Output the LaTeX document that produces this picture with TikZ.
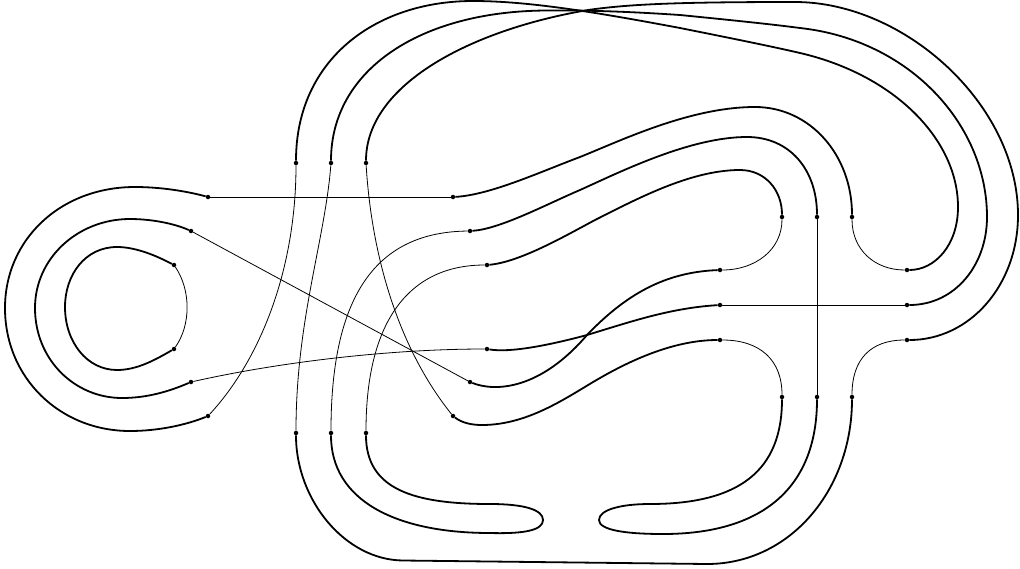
\documentclass[tikz,border=0pt]{standalone}
\usepackage{xcolor}
\tikzset{
  dot/.style={circle, fill=black, inner sep=0pt, minimum size=4.5pt},
  arc/.style={line width=1.8pt, line join=round},
  wire/.style={line width=0.8pt},
}
\begin{document}
\begin{tikzpicture}[x=1pt,y=-1pt]
  \useasboundingbox (0,0) rectangle (1020,568);
  % end points of the strands
  \foreach \nm/\xx/\yy in {a1/296/163,a2/331/163,a3/366/163,b1/296/433,b2/331/433,b3/366/433,
    la/208/197,lb/191/231,lc/174/265,ld/174/349,le/191/382,lf/208/416,
    ma/453/197,mb/470/231,mc/487/265,md/487/349,me/470/382,mf/453/416,
    ra/720/270,rb/720/305,rc/720/340,
    ca/782/217,cb/817/217,cc/852/217,da/782/397,db/817/397,dc/852/397,
    fa/907/270,fb/907/305,fc/907/340}
    \node[dot] (\nm) at (\xx,\yy) {};
  % left loops
  \draw[arc] (la) .. controls (186,191) and (160,187) .. (135,187) .. controls (60,187) and (5,240) .. (5,308)
    .. controls (5,378) and (60,431) .. (130,431) .. controls (158,431) and (186,425) .. (lf);
  \draw[arc] (lb) .. controls (173,223) and (150,219) .. (130,219) .. controls (78,219) and (35,258) .. (35,308)
    .. controls (35,360) and (75,398) .. (122,398) .. controls (148,398) and (170,391) .. (le);
  \draw[arc] (lc) .. controls (155,255) and (135,247) .. (117,247) .. controls (85,247) and (65,275) .. (65,307)
    .. controls (65,342) and (87,370) .. (117,370) .. controls (137,370) and (155,360) .. (ld);
  % over the top
  \draw[arc] (a1) .. controls (296,60) and (375,1) .. (473,1) .. controls (530,1) and (600,13) .. (680,28)
    .. controls (720,36) and (770,46) .. (800,53) .. controls (895,75) and (958,140) .. (958,207)
    .. controls (958,245) and (935,270) .. (fa);
  \draw[arc] (a2) .. controls (331,70) and (420,11) .. (547,10.5) .. controls (600,10) and (650,13) .. (680,15)
    .. controls (720,19) and (770,24) .. (800,28) .. controls (910,40) and (987,125) .. (987,217)
    .. controls (987,265) and (955,305) .. (fb);
  \draw[arc] (a3) .. controls (366,85) and (470,30) .. (588,10) .. controls (630,4) and (680,2) .. (795,2)
    .. controls (905,2) and (1018,105) .. (1018,215) .. controls (1018,285) and (970,340) .. (fc);
  % middle, upper
  \draw[arc] (ma) .. controls (490,195) and (540,172) .. (580,157) .. controls (620,141) and (690,107) .. (755,107)
    .. controls (810,107) and (852,155) .. (cc);
  \draw[arc] (mb) .. controls (500,229) and (545,205) .. (580,190) .. controls (620,172) and (690,137) .. (747,137)
    .. controls (790,137) and (817,170) .. (cb);
  \draw[arc] (mc) .. controls (520,262) and (565,236) .. (595,220) .. controls (635,200) and (690,170) .. (740,170)
    .. controls (765,170) and (782,190) .. (ca);
  % middle, lower
  \draw[arc] (md) .. controls (510,353) and (550,345) .. (587,335) .. controls (630,322) and (670,308) .. (rb);
  \draw[arc] (me) .. controls (495,392) and (540,390) .. (587,335) .. controls (630,290) and (670,272) .. (ra);
  \draw[arc] (mf) .. controls (462,423) and (472,425) .. (482,425) .. controls (530,425) and (570,395) .. (600,378)
    .. controls (640,355) and (680,340) .. (rc);
  % bottom
  \draw[arc] (b1) .. controls (296,500) and (345,560) .. (403,560.5) -- (707,564)
    .. controls (790,564) and (852,490) .. (dc);
  \draw[arc] (b2) .. controls (331,500) and (395,533) .. (490,533) .. controls (525,534) and (543,530) .. (543,520)
    .. controls (543,510) and (525,504) .. (490,504) .. controls (415,504) and (366,490) .. (b3);
  \draw[arc] (da) .. controls (782,470) and (740,504) .. (650,504) .. controls (620,504) and (599,510) .. (599,520)
    .. controls (599,530) and (625,534) .. (663,534) .. controls (760,534) and (817,490) .. (db);
  % thin crossings
  \draw[wire] (la) -- (ma);
  \draw[wire] (lb) -- (me);
  \draw[wire] (rb) -- (fb);
  \draw[wire] (cb) -- (db);
  \draw[wire] (lc) .. controls (191,290) and (191,325) .. (ld);
  \draw[wire] (le) .. controls (280,362) and (390,349) .. (md);
  \draw[wire] (a1) .. controls (296,270) and (260,360) .. (lf);
  \draw[wire] (a2) .. controls (325,240) and (296,320) .. (b1);
  \draw[wire] (a3) .. controls (372,260) and (400,350) .. (mf);
  \draw[wire] (mb) .. controls (380,232) and (331,290) .. (b2);
  \draw[wire] (mc) .. controls (410,265) and (366,320) .. (b3);
  \draw[wire] (ra) .. controls (755,270) and (782,250) .. (ca);
  \draw[wire] (rc) .. controls (760,340) and (782,360) .. (da);
  \draw[wire] (cc) .. controls (852,250) and (875,270) .. (fa);
  \draw[wire] (dc) .. controls (852,360) and (870,340) .. (fc);
\end{tikzpicture}
\end{document}
